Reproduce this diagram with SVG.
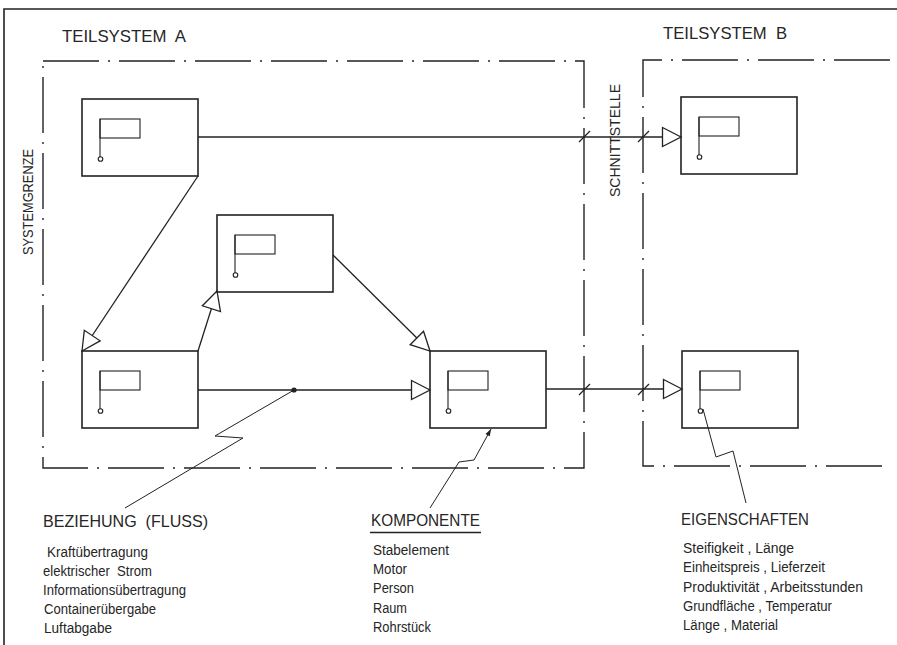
<svg xmlns="http://www.w3.org/2000/svg" width="897" height="645" viewBox="0 0 897 645">
<style>
.frame{fill:none;stroke:#222;stroke-width:1.6}
.bound{fill:none;stroke:#222;stroke-width:1.4;stroke-dasharray:56 9 2 9}
.box{fill:none;stroke:#222;stroke-width:1.6}
.flag{fill:none;stroke:#222;stroke-width:1.1}
.con{fill:none;stroke:#222;stroke-width:1.3}
.tick{fill:none;stroke:#222;stroke-width:1.3}
.lead{fill:none;stroke:#222;stroke-width:1}
text{font-family:"Liberation Sans",Arial,sans-serif;fill:#262626}
.h{font-size:17px}
.l{font-size:14px}
.v{font-size:15px}
</style>
<defs>
<marker id="tri" viewBox="-20 -11 22 22" refX="0" refY="0" markerWidth="22" markerHeight="22" orient="auto" markerUnits="userSpaceOnUse">
<path d="M0,0 L-18.5,-9.5 L-18.5,9.5 Z" fill="#fff" stroke="#222" stroke-width="1.3" stroke-linejoin="miter"/>
</marker>
<marker id="sm" viewBox="-8 -4 9 8" refX="0" refY="0" markerWidth="9" markerHeight="8" orient="auto" markerUnits="userSpaceOnUse">
<path d="M0,0 L-7,-2.5 L-7,2.5 Z" fill="#222"/>
</marker>
<g id="node">
<rect class="box" x="0" y="0" width="116" height="77"/>
<rect class="flag" x="18" y="20" width="40" height="19"/>
<path class="flag" d="M18,20 V58"/>
<circle class="flag" cx="18.5" cy="60" r="2.3" fill="#fff"/>
</g>
</defs>
<rect width="897" height="645" fill="#fff"/>
<path class="frame" d="M4,645 V9 H897"/>

<g id="boundaries">
<path class="bound" d="M43,61 H584 V468 H43 Z"/>
<path class="bound" d="M890,60 H643 V466 H890"/>
</g>

<g id="connectors">
<path class="con" d="M198,137 H681" marker-end="url(#tri)"/>
<path class="tick" d="M579,142 L590,131 M638,142 L649,131"/>
<path class="con" d="M198,176 L82,351" marker-end="url(#tri)"/>
<path class="con" d="M198,351 L217,291" marker-end="url(#tri)"/>
<path class="con" d="M333,255 L430,351" marker-end="url(#tri)"/>
<path class="con" d="M198,390 H430" marker-end="url(#tri)"/>
<circle cx="294" cy="390" r="2.6" fill="#222"/>
<path class="con" d="M546,389 H682" marker-end="url(#tri)"/>
<path class="tick" d="M579,395 L590,384 M638,395 L649,384"/>
<path class="lead" d="M294,390 L215,436 L243,438 L125,508"/>
<path class="lead" d="M430,508 L459,462 L474,460 L491,429" marker-end="url(#sm)"/>
<path class="lead" d="M703,409 L716,457 L733,451 L746,503"/>
</g>

<g id="n1"><use href="#node" x="82" y="99"/></g>
<g id="n2"><use href="#node" x="217" y="215"/></g>
<g id="n3"><use href="#node" x="82" y="351"/></g>
<g id="n4"><use href="#node" x="430" y="351"/></g>
<g id="n5"><use href="#node" x="681" y="97"/></g>
<g id="n6"><use href="#node" x="682" y="351"/></g>

<g id="labels">
<text class="h" x="62" y="42" textLength="124" lengthAdjust="spacingAndGlyphs" xml:space="preserve">TEILSYSTEM  A</text>
<text class="h" x="663" y="39" textLength="124" lengthAdjust="spacingAndGlyphs" xml:space="preserve">TEILSYSTEM  B</text>
<text class="v" transform="translate(33,255) rotate(-90)" x="0" y="0" textLength="106" lengthAdjust="spacingAndGlyphs">SYSTEMGRENZE</text>
<text class="v" transform="translate(620,197) rotate(-90)" x="0" y="0" textLength="113" lengthAdjust="spacingAndGlyphs">SCHNITTSTELLE</text>
</g>

<g id="beziehung">
<text class="h" x="43" y="527" textLength="165" lengthAdjust="spacingAndGlyphs" xml:space="preserve">BEZIEHUNG  (FLUSS)</text>
<text class="l" x="47" y="557" textLength="101" lengthAdjust="spacingAndGlyphs">Kraftübertragung</text>
<text class="l" x="43" y="576" textLength="109" lengthAdjust="spacingAndGlyphs" xml:space="preserve">elektrischer  Strom</text>
<text class="l" x="43" y="595" textLength="143" lengthAdjust="spacingAndGlyphs">Informationsübertragung</text>
<text class="l" x="44" y="614" textLength="112" lengthAdjust="spacingAndGlyphs">Containerübergabe</text>
<text class="l" x="44" y="633" textLength="68" lengthAdjust="spacingAndGlyphs">Luftabgabe</text>
</g>

<g id="komponente">
<text class="h" x="371" y="526" textLength="109" lengthAdjust="spacingAndGlyphs">KOMPONENTE</text>
<path class="con" d="M370,532.5 H481"/>
<text class="l" x="373" y="555" textLength="76" lengthAdjust="spacingAndGlyphs">Stabelement</text>
<text class="l" x="373" y="574" textLength="34" lengthAdjust="spacingAndGlyphs">Motor</text>
<text class="l" x="373" y="593" textLength="41" lengthAdjust="spacingAndGlyphs">Person</text>
<text class="l" x="373" y="613" textLength="34" lengthAdjust="spacingAndGlyphs">Raum</text>
<text class="l" x="373" y="632" textLength="58" lengthAdjust="spacingAndGlyphs">Rohrstück</text>
</g>

<g id="eigenschaften">
<text class="h" x="681" y="525" textLength="128" lengthAdjust="spacingAndGlyphs">EIGENSCHAFTEN</text>
<text class="l" x="683" y="553" textLength="111" lengthAdjust="spacingAndGlyphs">Steifigkeit , Länge</text>
<text class="l" x="683" y="572" textLength="142" lengthAdjust="spacingAndGlyphs">Einheitspreis , Lieferzeit</text>
<text class="l" x="683" y="592" textLength="180" lengthAdjust="spacingAndGlyphs">Produktivität , Arbeitsstunden</text>
<text class="l" x="683" y="611" textLength="149" lengthAdjust="spacingAndGlyphs">Grundfläche , Temperatur</text>
<text class="l" x="683" y="630" textLength="95" lengthAdjust="spacingAndGlyphs">Länge , Material</text>
</g>
</svg>
